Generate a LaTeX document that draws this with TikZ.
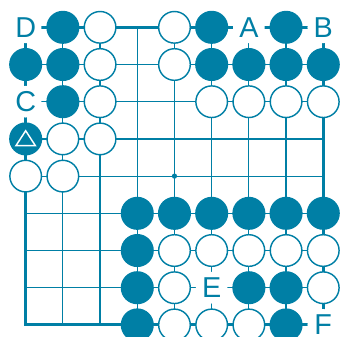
\documentclass[tikz,border=0pt]{standalone}
\usepackage{fontspec}
\setmainfont{Liberation Sans}
\usepackage{xcolor}
\usepackage{tikz}
\usetikzlibrary{positioning}

\definecolor{goteal}{RGB}{0,127,165}

\begin{document}
\begin{tikzpicture}[
    gridline/.style={draw=goteal, line width=0.9pt},
    edgeline/.style={draw=goteal, line width=2.2pt},
    stone/.style={circle, minimum size=0.85cm, inner sep=0pt, line width=1.1pt, draw=goteal},
    bstone/.style={stone, fill=goteal},
    wstone/.style={stone, fill=white},
    lbl/.style={circle, minimum size=0.85cm, inner sep=0pt, fill=white, text=goteal, font=\fontsize{22}{22}\selectfont},
    hoshi/.style={circle, fill=goteal, minimum size=0.14cm, inner sep=0pt}
]
\useasboundingbox (-0.69,0.734) rectangle (8.557,-8.298);

% Board lines
\foreach \i in {1,...,7} {
    \draw[gridline] (\i,0) -- (\i,-8);
    \draw[gridline] (0,-\i) -- (8,-\i);
}
\draw[edgeline] (0,0) rectangle (8,-8);
\node[hoshi] (tengen) at (4,-4) {};

% Black stones
\foreach \x/\y in {1/0, 5/0, 7/0,
                   0/1, 1/1, 5/1, 6/1, 7/1, 8/1,
                   1/2, 0/3,
                   3/5, 4/5, 5/5, 6/5, 7/5, 8/5,
                   3/6, 3/7, 6/7, 7/7, 3/8, 7/8} {
    \node[bstone] (b\x\y) at (\x,-\y) {};
}

% White stones
\foreach \x/\y in {2/0, 4/0,
                   2/1, 4/1,
                   2/2, 5/2, 6/2, 7/2, 8/2,
                   1/3, 2/3, 0/4, 1/4,
                   4/6, 5/6, 6/6, 7/6, 8/6,
                   4/7, 8/7,
                   4/8, 5/8, 6/8} {
    \node[wstone] (w\x\y) at (\x,-\y) {};
}

% Triangle mark
\draw[white, line width=1.1pt, line join=miter]
    ([yshift=0.22cm]b03.center) -- ([xshift=-0.26cm,yshift=-0.18cm]b03.center)
    -- ([xshift=0.26cm,yshift=-0.18cm]b03.center) -- cycle;

% Letters
\node[lbl] (lblA) at (6,0) {A};
\node[lbl] (lblB) at (8,0) {B};
\node[lbl] (lblC) at (0,-2) {C};
\node[lbl] (lblD) at (0,0) {D};
\node[lbl] (lblE) at (5,-7) {E};
\node[lbl] (lblF) at (8,-8) {F};
\end{tikzpicture}
\end{document}
